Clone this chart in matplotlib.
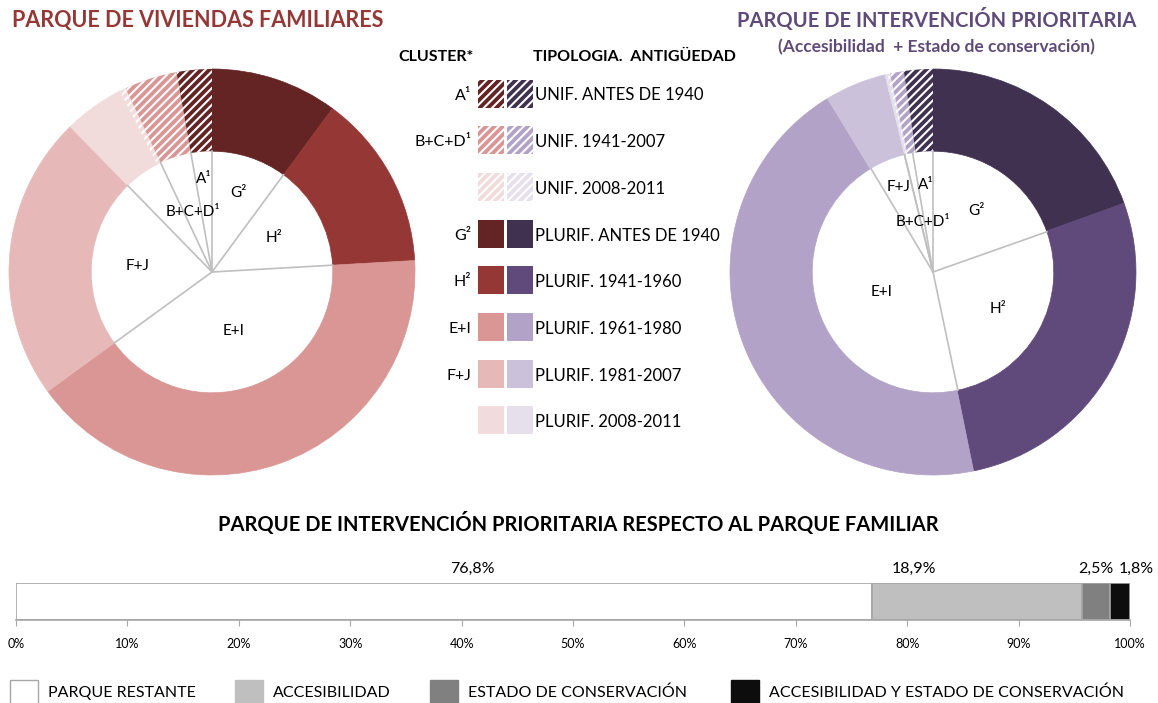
import numpy as np
import matplotlib
matplotlib.use("Agg")
import matplotlib.pyplot as plt
from matplotlib.patches import Rectangle

plt.rcParams['font.family'] = ['Lato', 'DejaVu Sans']
plt.rcParams['hatch.linewidth'] = 1.5

# ---- data (legend order) ----
tipologias = ['UNIF. ANTES DE 1940', 'UNIF. 1941-2007', 'UNIF. 2008-2011',
              'PLURIF. ANTES DE 1940', 'PLURIF. 1941-1960', 'PLURIF. 1961-1980',
              'PLURIF. 1981-2007', 'PLURIF. 2008-2011']
cluster_legend = ['A¹', 'B+C+D¹', '', 'G²', 'H²', 'E+I', 'F+J', '']
familiar_tipo = [2.8, 4.2, 0.5, 10.1, 14.0, 40.9, 22.7, 4.8]
prioritario_tipo = [2.3, 1.1, 0.2, 19.5, 27.3, 44.5, 4.9, 0.2]
hatched = [True, True, True, False, False, False, False, False]
rojos = ['#632423', '#D99694', '#F2DCDB', '#632423', '#953735', '#D99694', '#E6B9B8', '#F2DCDB']
morados = ['#403151', '#B3A2C7', '#E5E0EC', '#403151', '#604A7B', '#B3A2C7', '#CCC1DA', '#E5E0EC']

# order of the typologies clockwise from 12 o'clock
pie_order = [3, 4, 5, 6, 7, 2, 1, 0]

# clusters clockwise from 12 o'clock
clusters = ['G²', 'H²', 'E+I', 'F+J', '', 'B+C+D¹', 'A¹']
familiar_cluster = [10.1, 14.0, 40.9, 22.7, 5.3, 4.2, 2.8]
prioritario_cluster = [19.6, 27.1, 44.7, 4.8, 0.0, 1.1, 2.7]

barra_labels = ['PARQUE RESTANTE', 'ACCESIBILIDAD', 'ESTADO DE CONSERVACIÓN',
                'ACCESIBILIDAD Y ESTADO DE CONSERVACIÓN']
barra_vals = [76.8, 18.9, 2.5, 1.8]
barra_cols = ['white', '#BFBFBF', '#808080', '#0D0D0D']

W, H = 1158, 703
fig = plt.figure(figsize=(W / 100, H / 100), dpi=100)


def px_axes(x0, y0, w, h):
    # axes placed in pixel coords (origin top left)
    return fig.add_axes([x0 / W, 1 - (y0 + h) / H, w / W, h / H])


def donut(cx, cy, r, tipo, colors, cl_vals, lab_r):
    ax = px_axes(cx - r, cy - r, 2 * r, 2 * r)
    vals = [tipo[i] for i in pie_order]
    cols = [colors[i] for i in pie_order]
    wedges, _ = ax.pie(vals, colors=cols, startangle=90, counterclock=False,
                       radius=1, wedgeprops=dict(width=0.405, linewidth=0.5))
    for w, i in zip(wedges, pie_order):
        if hatched[i]:
            w.set_edgecolor('white')
            w.set_linewidth(0)
            w.set_hatch('////')
        else:
            w.set_edgecolor(w.get_facecolor())
    # inner cluster ring: lines from center
    cum = np.concatenate([[0], np.cumsum(cl_vals)]) / sum(cl_vals) * 360
    for a in cum[:-1]:
        t = np.deg2rad(90 - a)
        ax.plot([0, 0.595 * np.cos(t)], [0, 0.595 * np.sin(t)], color='#BFBFBF', lw=1.2)
    for k, lab in enumerate(clusters):
        if not lab:
            continue
        mid = np.deg2rad(90 - (cum[k] + cum[k + 1]) / 2)
        ax.text(lab_r[k] * np.cos(mid), lab_r[k] * np.sin(mid), lab,
                ha='center', va='center', fontsize=11)
    ax.set_xlim(-1, 1)
    ax.set_ylim(-1, 1)
    ax.axis('off')


donut(212, 272, 203, familiar_tipo, rojos, familiar_cluster,
      [0.41, 0.35, 0.31, 0.37, 0.3, 0.31, 0.46])
donut(933, 272, 203, prioritario_tipo, morados, prioritario_cluster,
      [0.37, 0.37, 0.27, 0.45, 0.3, 0.25, 0.43])

# overlay in pixel coordinates for titles and legends
ov = fig.add_axes([0, 0, 1, 1])
ov.set_xlim(0, W)
ov.set_ylim(H, 0)
ov.axis('off')
ov.patch.set_alpha(0)

ov.text(198, 20, 'PARQUE DE VIVIENDAS FAMILIARES', color='#953735',
        fontsize=15.5, fontweight='bold', ha='center', va='center')
ov.text(937, 20, 'PARQUE DE INTERVENCIÓN PRIORITARIA', color='#604A7B',
        fontsize=14.5, fontweight='bold', ha='center', va='center')
ov.text(936, 47, '(Accesibilidad  + Estado de conservación)', color='#604A7B',
        fontsize=12.5, fontweight='bold', ha='center', va='center')

ov.text(436, 57, 'CLUSTER*', fontsize=11.5, fontweight='bold', ha='center', va='center')
ov.text(634, 57, 'TIPOLOGIA.  ANTIGÜEDAD', fontsize=11.5, fontweight='bold',
        ha='center', va='center')

for k, lab in enumerate(tipologias):
    yc = 93.5 + k * 46.7
    for x0, col in ((478, rojos[k]), (507, morados[k])):
        if hatched[k]:
            ov.add_patch(Rectangle((x0, yc - 14), 26, 28, facecolor=col,
                                   edgecolor='white', lw=0, hatch='////'))
        else:
            ov.add_patch(Rectangle((x0, yc - 14), 26, 28, facecolor=col, lw=0))
    ov.text(535, yc + 2, lab, fontsize=12, ha='left', va='center')
    if cluster_legend[k]:
        ov.text(471, yc + 2, cluster_legend[k], fontsize=11.5, ha='right', va='center')

ov.text(578, 523, 'PARQUE DE INTERVENCIÓN PRIORITARIA RESPECTO AL PARQUE FAMILIAR',
        fontsize=14.5, fontweight='bold', ha='center', va='center')

# stacked 100% bar
bx = px_axes(16, 583, 1114, 37)
left = 0
lab_x = [41.0, 80.6, 96.9, 100.6]
for v, c, lx in zip(barra_vals, barra_cols, lab_x):
    bx.barh(0.5, v, left=left, height=1, color=c, edgecolor='#A6A6A6', lw=1.2)
    bx.text(lx, 1.38, f'{v:.1f}%'.replace('.', ','), ha='center', va='center',
            fontsize=11.5)
    left += v
bx.set_xlim(0, 100)
bx.set_ylim(0, 1)
bx.set_yticks([])
bx.set_xticks(np.arange(0, 101, 10))
bx.set_xticklabels([f'{t}%' for t in range(0, 101, 10)], fontsize=9)
bx.tick_params(axis='x', length=4, color='#A6A6A6', pad=9)
for s in ('top', 'left', 'right'):
    bx.spines[s].set_visible(False)
bx.spines['bottom'].set_color('#A6A6A6')
bx.spines['bottom'].set_linewidth(1.2)
bx.set_zorder(2)

for x0, lab, col in zip([10, 235, 430, 731], barra_labels, barra_cols):
    ov.add_patch(Rectangle((x0, 680), 28, 26, facecolor=col,
                           edgecolor='#A6A6A6' if col == 'white' else col, lw=1))
    ov.text(x0 + 38, 693, lab, fontsize=11.5, ha='left', va='center')

fig.savefig('out.png', dpi=100)
